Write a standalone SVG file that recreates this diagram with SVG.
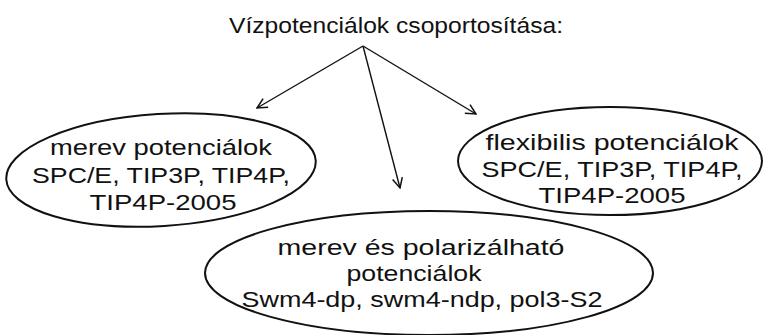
<svg xmlns="http://www.w3.org/2000/svg" width="764" height="335" viewBox="0 0 764 335">
<style>
text{font-family:"Liberation Sans",Arial,sans-serif;font-size:22px;fill:#111;text-anchor:middle}
.node ellipse{fill:none;stroke:#111;stroke-width:2}
.conn line{stroke:#111;stroke-width:1.4;fill:none}
</style>
<defs>
<marker id="ah" viewBox="0 0 12 12" refX="11" refY="6" markerWidth="12" markerHeight="12" markerUnits="userSpaceOnUse" orient="auto">
<path d="M1,1 L11,6 L1,11" fill="none" stroke="#111" stroke-width="1.5"/>
</marker>
</defs>
<rect width="764" height="335" fill="#fff"/>
<g id="title"><text x="396" y="33" textLength="334" lengthAdjust="spacingAndGlyphs">Vízpotenciálok csoportosítása:</text></g>
<g id="connectors" class="conn">
<line x1="363" y1="46" x2="257" y2="108" marker-end="url(#ah)"/>
<line x1="363" y1="46" x2="400" y2="188" marker-end="url(#ah)"/>
<line x1="363" y1="46" x2="476" y2="114" marker-end="url(#ah)"/>
</g>
<g id="merev" class="node">
<ellipse cx="161" cy="170" rx="155" ry="56" transform="rotate(-3.5 161 170)"/>
<text x="161" y="155" textLength="222" lengthAdjust="spacingAndGlyphs">merev potenciálok</text>
<text x="161" y="183" textLength="258" lengthAdjust="spacingAndGlyphs">SPC/E, TIP3P, TIP4P,</text>
<text x="163" y="210" textLength="147" lengthAdjust="spacingAndGlyphs">TIP4P-2005</text>
</g>
<g id="flexibilis" class="node">
<ellipse cx="610" cy="161" rx="152" ry="54"/>
<text x="612" y="150" textLength="253" lengthAdjust="spacingAndGlyphs">flexibilis potenciálok</text>
<text x="612" y="177" textLength="261" lengthAdjust="spacingAndGlyphs">SPC/E, TIP3P, TIP4P,</text>
<text x="612" y="203" textLength="147" lengthAdjust="spacingAndGlyphs">TIP4P-2005</text>
</g>
<g id="polarizalhato" class="node">
<ellipse cx="429" cy="273" rx="224" ry="62"/>
<text x="421" y="255" textLength="287" lengthAdjust="spacingAndGlyphs">merev és polarizálható</text>
<text x="414" y="281" textLength="135" lengthAdjust="spacingAndGlyphs">potenciálok</text>
<text x="422" y="307" textLength="361" lengthAdjust="spacingAndGlyphs">Swm4-dp, swm4-ndp, pol3-S2</text>
</g>
</svg>
